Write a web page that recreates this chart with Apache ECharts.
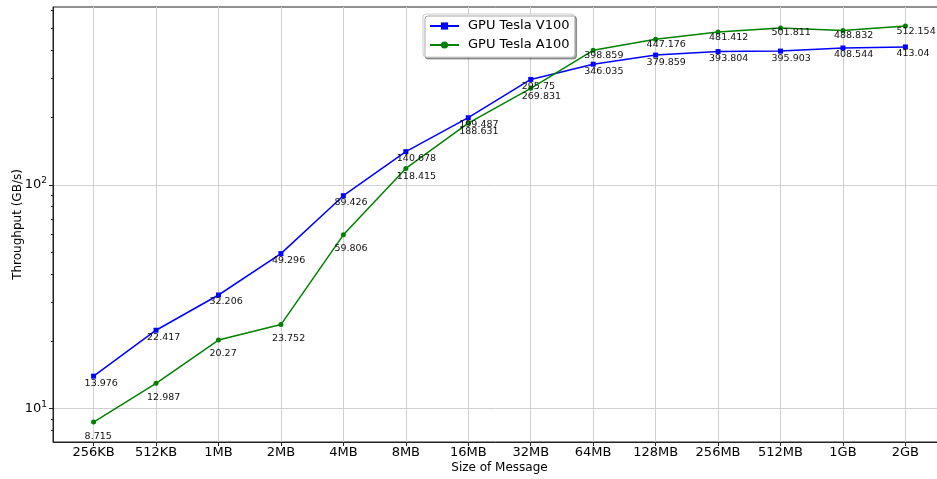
<!DOCTYPE html>
<html>
<head>
<meta charset="utf-8">
<script src="https://cdn.jsdelivr.net/npm/echarts@6/dist/echarts.min.js"></script>
<style>html,body{margin:0;padding:0;background:#fff}#c{width:937px;height:479px}</style>
</head>
<body>
<div id="c"></div>
<script>
const categories = ['256KB','512KB','1MB','2MB','4MB','8MB','16MB','32MB','64MB','128MB','256MB','512MB','1GB','2GB'];
const v100 = [13.976, 22.417, 32.206, 49.296, 89.426, 140.678, 199.487, 295.75, 346.035, 379.859, 393.804, 395.903, 408.544, 413.04];
const a100 = [8.715, 12.987, 20.27, 23.752, 59.806, 118.415, 188.631, 269.831, 398.859, 447.176, 481.412, 501.811, 488.832, 512.154];
const yMajorTicks = [10, 100];
const yMinorTicks = [8, 9, 20, 30, 40, 50, 60, 70, 80, 90, 200, 300, 400, 500, 600];
const seriesNames = ['GPU Tesla V100', 'GPU Tesla A100'];

const FONT = 'DejaVu Sans';
const xIdx = categories.map((_, i) => i);

const chart = echarts.init(document.getElementById('c'), null, {renderer: 'canvas'});

const labelBase = {
  show: true, position: 'inside', align: 'left', verticalAlign: 'middle',
  color: '#111', fontFamily: FONT, fontSize: 9.5,
  formatter: p => String(p.value[1])
};
// label drop below the point (styling rule; A100 labels sit lower for small values)
const v100Pts = v100.map((v, i) => ({value: [i, v], label: Object.assign({}, labelBase, {offset: [-9, 7]})}));
const a100Pts = a100.map((v, i) => ({value: [i, v],
  label: Object.assign({}, labelBase, {offset: [-9, v < 100 ? 14 : (v < 300 ? 8 : 5)]})}));

chart.setOption({
  animation: false,
  backgroundColor: '#fff',
  grid: {left: 53, top: 7, bottom: 37, right: -9, outerBoundsMode: 'none', containLabel: false,
    show: true, borderColor: '#222', borderWidth: 1, backgroundColor: 'transparent'},
  legend: {
    orient: 'vertical', left: 423, top: 14,
    padding: [4, 5, 4, 6], itemGap: 3, itemWidth: 29, itemHeight: 9,
    backgroundColor: '#fff', borderColor: '#cccccc', borderWidth: 1, borderRadius: 3,
    shadowColor: 'rgba(0,0,0,0.35)', shadowOffsetX: 2, shadowOffsetY: 2, shadowBlur: 0,
    textStyle: {fontFamily: FONT, fontSize: 13, color: '#000', lineHeight: 16, padding: [0, 0, 0, 4]},
    data: seriesNames
  },
  xAxis: [{
    type: 'value', min: -0.65, max: 13.65,
    name: 'Size of Message', nameLocation: 'middle', nameGap: 20, nameMoveOverlap: false,
    nameTextStyle: {fontFamily: FONT, fontSize: 12, color: '#000', verticalAlign: 'top'},
    axisLine: {show: true, onZero: false, lineStyle: {color: '#222', width: 1}},
    axisTick: {show: true, length: 4, customValues: xIdx, lineStyle: {color: '#222'}},
    axisLabel: {customValues: xIdx, margin: 4, fontFamily: FONT, fontSize: 13, color: '#000',
      formatter: v => categories[Math.round(v)] || ''},
    splitLine: {show: true, lineStyle: {color: '#d0d0d0', width: 1}}
  }],
  yAxis: [{
    type: 'log', logBase: 10, min: 7.1, max: 623,
    name: 'Throughput (GB/s)', nameLocation: 'middle', nameGap: 29, nameRotate: 90, nameMoveOverlap: false,
    nameTextStyle: {fontFamily: FONT, fontSize: 12, color: '#000', verticalAlign: 'bottom'},
    axisLine: {show: true, onZero: false, lineStyle: {color: '#222', width: 1}},
    axisTick: {show: true, length: 4, customValues: yMajorTicks, lineStyle: {color: '#222'}},
    axisLabel: {customValues: yMajorTicks, margin: 6,
      formatter: v => '{a|10}{b|' + Math.round(Math.log10(v)) + '}',
      rich: {a: {fontFamily: FONT, fontSize: 13, color: '#000'},
             b: {fontFamily: FONT, fontSize: 9, color: '#000', padding: [0, 0, 8, 0]}}},
    splitLine: {show: true, lineStyle: {color: '#d0d0d0', width: 1}}
  }, {
    type: 'log', logBase: 10, min: 7.1, max: 623, position: 'left',
    axisLine: {show: false, onZero: false},
    axisTick: {show: true, length: 2, customValues: yMinorTicks, lineStyle: {color: '#222'}},
    axisLabel: {show: false},
    splitLine: {show: false}
  }],
  series: [{
    name: seriesNames[0], type: 'line', data: v100Pts,
    symbol: 'rect', symbolSize: 5, color: '#0000ff',
    lineStyle: {width: 1.5, color: '#0000ff'}, itemStyle: {color: '#0000ff'}
  }, {
    name: seriesNames[1], type: 'line', data: a100Pts,
    symbol: 'circle', symbolSize: 5, color: '#008000',
    lineStyle: {width: 1.5, color: '#008000'}, itemStyle: {color: '#008000'}
  }]
});
</script>
</body>
</html>
